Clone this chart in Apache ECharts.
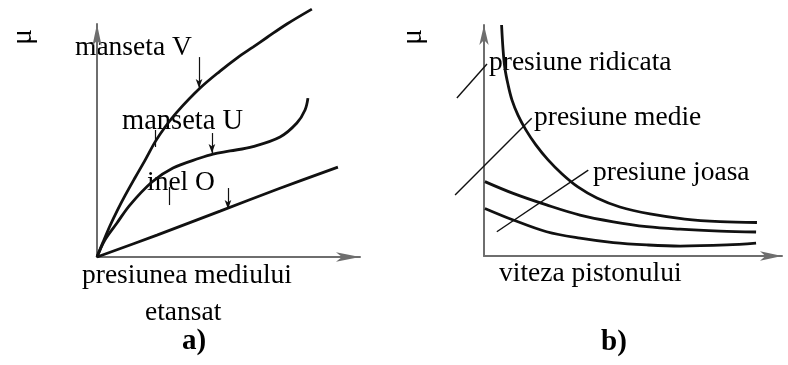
<!DOCTYPE html>
<html>
<head>
<meta charset="utf-8">
<script src="https://cdn.jsdelivr.net/npm/echarts@6/dist/echarts.min.js"></script>
<style>
  html, body { margin: 0; padding: 0; background: #fff; }
  #chart { width: 788px; height: 365px; }
</style>
</head>
<body>
<div id="chart"></div>
<script>
// Friction coefficient curves, both panels drawn on unitless 0..10 scales.

// Panel a) - friction vs. sealed medium pressure
const mansetaV = [[0,0],[0.23,0.64],[0.49,1.33],[0.76,1.97],[1.06,2.62],[1.44,3.39],[1.83,4.16],[2.21,4.94],[2.59,5.58],[3.04,6.22],[3.92,7.25],[4.68,7.98],[5.32,8.54],[5.93,9.01],[6.46,9.42],[7.22,10.0],[8.17,10.64]];
const mansetaU = [[0,0],[0.30,0.73],[0.76,1.46],[1.25,2.23],[2.09,3.22],[2.89,3.82],[3.92,4.25],[4.41,4.42],[5.06,4.55],[5.93,4.74],[6.96,5.15],[7.60,5.75],[7.91,6.31],[8.02,6.82]];
const inelO = [[0,0],[2.28,0.94],[4.68,1.97],[6.88,2.92],[9.16,3.86]];
// pointer arrows onto each curve: [x, yFrom, yTo]
const pointersA = [[3.88,8.58,7.25],[4.37,5.32,4.46],[4.98,2.96,2.06]];
// short label ticks: [x, yFrom, yTo]
const ticksA = [[2.21,5.45,4.72],[2.74,3.00,2.23]];

// Panel b) - friction vs. piston speed
const presRidicata = [[0.59,10.0],[0.64,8.92],[0.70,8.14],[0.81,7.40],[0.94,6.75],[1.14,6.10],[1.41,5.45],[1.74,4.81],[2.15,4.16],[2.62,3.55],[3.15,2.99],[3.79,2.51],[4.56,2.12],[5.57,1.82],[6.74,1.60],[7.92,1.49],[9.16,1.45]];
const presMedie = [[0.03,3.22],[0.98,2.71],[2.10,2.21],[3.22,1.77],[4.34,1.48],[5.46,1.27],[6.58,1.16],[7.92,1.08],[9.13,1.04]];
const presJoasa = [[0.03,2.06],[0.98,1.56],[2.10,1.05],[3.22,0.77],[4.34,0.58],[5.46,0.48],[6.58,0.43],[8.15,0.48],[9.13,0.56]];
// leader lines from the labels to the curves
const leaderRidicata = [[-0.91,6.84],[0.10,8.31]];
const leaderMedie = [[-0.97,2.64],[1.60,5.96]];
const leaderJoasa = [[0.43,1.05],[3.50,3.72]];

// texts
const labelsA = ['manseta V', 'manseta U', 'inel O'];
const axisTitleA = ['presiunea mediului', 'etansat'];
const labelsB = ['presiune ridicata', 'presiune medie', 'presiune joasa'];
const axisTitleB = 'viteza pistonului';
const panelTags = ['a)', 'b)'];
const muSymbol = 'μ';

const SERIF = '"Liberation Serif", "Times New Roman", serif';
const CURVE = { color: '#111', width: 2.8 };
const LEADER = { color: '#111', width: 1.4 };

// panel b spans x 0..10 over 298px; the leader layer reuses that scale but starts at -1.2
const B_LEFT = 484, B_RIGHT = 6, B_UNIT = 29.8, LEADER_MIN = -1.2;
const B_TOP = 25, B_BOTTOM = 109;

function axis(gridIndex, arrowSize) {
  return {
    type: 'value', gridIndex, min: 0, max: 10,
    axisLine: { show: true, onZero: false, symbol: ['none', 'arrow'], symbolSize: arrowSize,
                lineStyle: { color: '#6e6e6e', width: 2 } },
    axisTick: { show: false }, axisLabel: { show: false }, splitLine: { show: false }
  };
}

function hiddenAxis(gridIndex, min) {
  return { type: 'value', gridIndex, min, max: 10, show: false };
}

function curve(data, xi) {
  return {
    type: 'line', xAxisIndex: xi, yAxisIndex: xi, data,
    smooth: 0.35, symbol: 'none', clip: false,
    lineStyle: CURVE, silent: true, animation: false
  };
}

function leader(data) {
  return {
    type: 'line', xAxisIndex: 2, yAxisIndex: 2, data,
    symbol: 'none', clip: false, lineStyle: LEADER, silent: true, animation: false
  };
}

const pointerLines = pointersA.map(p => [
  { coord: [p[0], p[1]], symbol: 'none' },
  { coord: [p[0], p[2]], symbol: 'arrow', symbolSize: [5, 9] }
]);
const tickLines = ticksA.map(t => [
  { coord: [t[0], t[1]], symbol: 'none' },
  { coord: [t[0], t[2]], symbol: 'none' }
]);

const vA = curve(mansetaV, 0);
vA.markLine = {
  silent: true, animation: false, symbol: ['none', 'arrow'],
  label: { show: false },
  lineStyle: { color: '#111', width: 1.2, type: 'solid' },
  emphasis: { disabled: true },
  data: pointerLines.concat(tickLines)
};

function txt(text, x, y, opts) {
  opts = opts || {};
  return {
    type: 'text', x, y, rotation: opts.rotation || 0, silent: true,
    style: {
      text, fill: '#000',
      font: (opts.weight || 'normal') + ' ' + (opts.size || 27.5) + 'px ' + SERIF,
      align: opts.align || 'left', verticalAlign: 'middle'
    }
  };
}

const option = {
  backgroundColor: '#fff',
  animation: false,
  grid: [
    { left: 97, top: 24, right: 428, bottom: 108 },
    { left: B_LEFT, top: B_TOP, right: B_RIGHT, bottom: B_BOTTOM },
    { left: B_LEFT + LEADER_MIN * B_UNIT, top: B_TOP, right: B_RIGHT, bottom: B_BOTTOM }
  ],
  xAxis: [axis(0, [7, 24]), axis(1, [7, 22]), hiddenAxis(2, LEADER_MIN)],
  yAxis: [axis(0, [7, 22]), axis(1, [7, 20]), hiddenAxis(2, 0)],
  series: [
    vA,
    curve(mansetaU, 0),
    curve(inelO, 0),
    curve(presRidicata, 1),
    curve(presMedie, 1),
    curve(presJoasa, 1),
    leader(leaderRidicata),
    leader(leaderMedie),
    leader(leaderJoasa)
  ],
  graphic: [
    txt(muSymbol, 23, 37, { rotation: Math.PI / 2, align: 'center', size: 30 }),
    txt(muSymbol, 413, 37, { rotation: Math.PI / 2, align: 'center', size: 30 }),
    txt(labelsA[0], 75, 48),
    txt(labelsA[1], 122, 122, { size: 28.5 }),
    txt(labelsA[2], 147, 183),
    txt(axisTitleA[0], 82, 276),
    txt(axisTitleA[1], 145, 313),
    txt(panelTags[0], 182, 342, { weight: 'bold', size: 29 }),
    txt(labelsB[0], 489, 63),
    txt(labelsB[1], 534, 118),
    txt(labelsB[2], 593, 173),
    txt(axisTitleB, 499, 274),
    txt(panelTags[1], 601, 343, { weight: 'bold', size: 29 })
  ]
};

const chart = echarts.init(document.getElementById('chart'), null, { renderer: 'canvas' });
chart.setOption(option);
</script>
</body>
</html>
